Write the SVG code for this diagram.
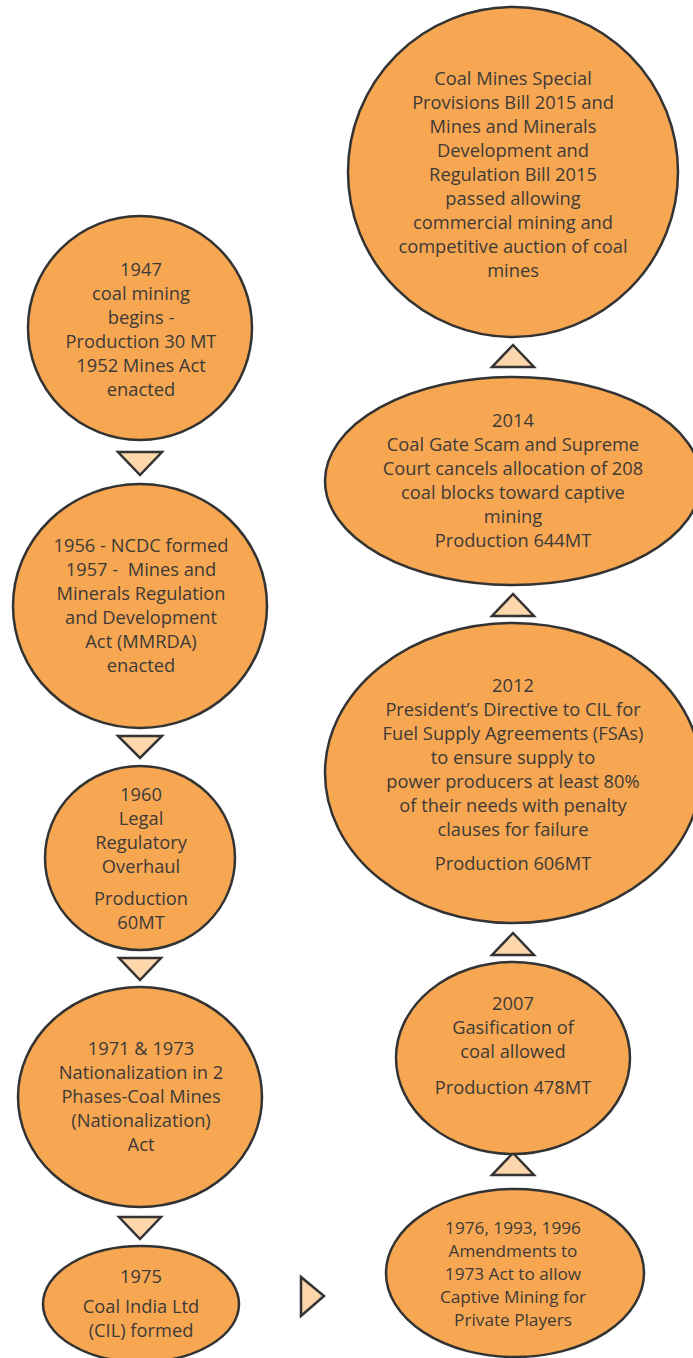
<svg xmlns="http://www.w3.org/2000/svg" width="693" height="1358" viewBox="0 0 693 1358">
<style>
.n{fill:#F7A752;stroke:#333333;stroke-width:2.5}
.a{fill:#FDD6AB;stroke:#333333;stroke-width:2.5;stroke-linejoin:miter}
text{font-family:"Open Sans",Lato,"Liberation Sans",sans-serif;font-size:18.3px;fill:#3d3a38;text-anchor:middle}
.s{font-size:17.2px}
</style>
<rect width="693" height="1358" fill="#ffffff"/>
<g id="connectors">
<polygon class="a" points="118,452 162,452 140,475"/>
<polygon class="a" points="118,736 162,736 140,758"/>
<polygon class="a" points="119,958 161,958 140,980"/>
<polygon class="a" points="119,1217 161,1217 140,1239"/>
<polygon class="a" points="301,1277 301,1316 324,1296"/>
<polygon class="a" points="492,1175 534,1175 513,1153"/>
<polygon class="a" points="492,955 534,955 513,933"/>
<polygon class="a" points="492,616 534,616 513,594"/>
<polygon class="a" points="492,367 534,367 513,345"/>
</g>
<g id="n1947">
<ellipse class="n" cx="140" cy="328" rx="112" ry="112"/>
<text x="141" y="276">1947</text>
<text x="141" y="300">coal mining</text>
<text x="141" y="324">begins -</text>
<text x="141" y="348">Production 30 MT</text>
<text x="141" y="372">1952 Mines Act</text>
<text x="141" y="396">enacted</text>
</g>
<g id="n1956">
<ellipse class="n" cx="140" cy="606" rx="127" ry="122"/>
<text x="141" y="552">1956 - NCDC formed</text>
<text x="141" y="576" xml:space="preserve">1957 -  Mines and</text>
<text x="141" y="600">Minerals Regulation</text>
<text x="141" y="624">and Development</text>
<text x="141" y="648">Act (MMRDA)</text>
<text x="141" y="672">enacted</text>
</g>
<g id="n1960">
<ellipse class="n" cx="140" cy="858" rx="95" ry="92"/>
<text x="141" y="801">1960</text>
<text x="141" y="825">Legal</text>
<text x="141" y="849">Regulatory</text>
<text x="141" y="873">Overhaul</text>
<text x="141" y="905">Production</text>
<text x="141" y="929">60MT</text>
</g>
<g id="n1971">
<ellipse class="n" cx="140" cy="1097" rx="122" ry="110"/>
<text x="141" y="1055">1971 &amp; 1973</text>
<text x="141" y="1079">Nationalization in 2</text>
<text x="141" y="1103">Phases-Coal Mines</text>
<text x="141" y="1127">(Nationalization)</text>
<text x="141" y="1151">Act</text>
</g>
<g id="n1975">
<ellipse class="n" cx="141" cy="1304" rx="98" ry="58"/>
<text x="141" y="1283">1975</text>
<text x="141" y="1313">Coal India Ltd</text>
<text x="141" y="1337">(CIL) formed</text>
</g>
<g id="n2015">
<ellipse class="n" cx="513" cy="172" rx="165" ry="165"/>
<text x="513" y="85">Coal Mines Special</text>
<text x="513" y="109">Provisions Bill 2015 and</text>
<text x="513" y="133">Mines and Minerals</text>
<text x="513" y="157">Development and</text>
<text x="513" y="181">Regulation Bill 2015</text>
<text x="513" y="205">passed allowing</text>
<text x="513" y="229">commercial mining and</text>
<text x="513" y="253">competitive auction of coal</text>
<text x="513" y="277">mines</text>
</g>
<g id="n2014">
<ellipse class="n" cx="513" cy="481" rx="188" ry="104"/>
<text x="513" y="427">2014</text>
<text x="513" y="451">Coal Gate Scam and Supreme</text>
<text x="513" y="475">Court cancels allocation of 208</text>
<text x="513" y="499">coal blocks toward captive</text>
<text x="513" y="523">mining</text>
<text x="513" y="547">Production 644MT</text>
</g>
<g id="n2012">
<ellipse class="n" cx="513" cy="773" rx="188" ry="150"/>
<text x="513" y="692">2012</text>
<text x="513" y="716">President’s Directive to CIL for</text>
<text x="513" y="740">Fuel Supply Agreements (FSAs)</text>
<text x="513" y="764">to ensure supply to</text>
<text x="513" y="788">power producers at least 80%</text>
<text x="513" y="812">of their needs with penalty</text>
<text x="513" y="836">clauses for failure</text>
<text x="513" y="870">Production 606MT</text>
</g>
<g id="n2007">
<ellipse class="n" cx="513" cy="1058" rx="117" ry="96"/>
<text x="513" y="1010">2007</text>
<text x="513" y="1034">Gasification of</text>
<text x="513" y="1058">coal allowed</text>
<text x="513" y="1094">Production 478MT</text>
</g>
<g id="n1976">
<ellipse class="n" cx="515" cy="1273" rx="129" ry="84"/>
<text class="s" x="513" y="1234">1976, 1993, 1996</text>
<text class="s" x="513" y="1257">Amendments to</text>
<text class="s" x="513" y="1280">1973 Act to allow</text>
<text class="s" x="513" y="1303">Captive Mining for</text>
<text class="s" x="513" y="1326">Private Players</text>
</g>
</svg>
